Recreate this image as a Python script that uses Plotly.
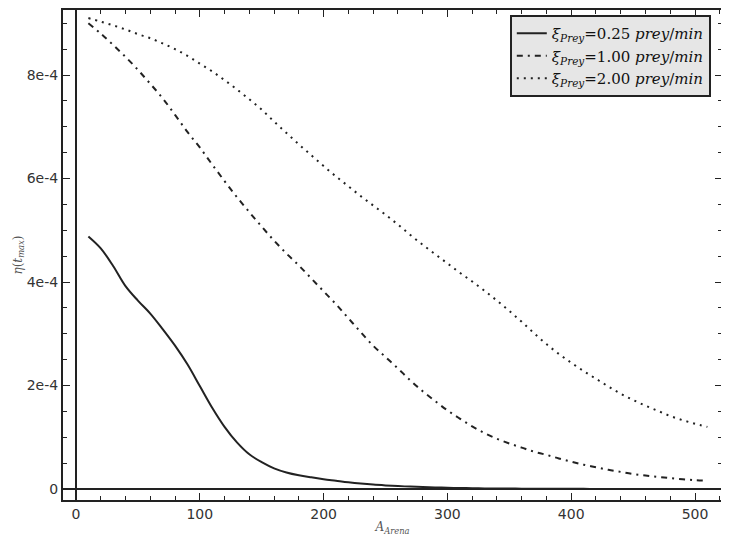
import plotly.graph_objects as go

area = list(range(10, 520, 10))

# eta(t_max) values in units of 1e-4
eta_025 = [4.88, 4.65, 4.31, 3.92, 3.64, 3.39, 3.09, 2.77, 2.41, 1.99,
           1.57, 1.20, 0.90, 0.67, 0.52, 0.40, 0.32, 0.265, 0.225, 0.19,
           0.16, 0.13, 0.105, 0.085, 0.07, 0.057, 0.046, 0.037, 0.030, 0.024,
           0.019, 0.015, 0.012, 0.010, 0.008, 0.0065, 0.0053, 0.0043, 0.0035, 0.003,
           0.0025, 0.0021, 0.0018, 0.0015, 0.0013, 0.0011, 0.001, 0.0009, 0.0008, 0.0007, 0.0006]
eta_100 = [9.00, 8.80, 8.58, 8.35, 8.10, 7.83, 7.55, 7.23, 6.90, 6.60,
           6.27, 5.95, 5.64, 5.35, 5.07, 4.80, 4.55, 4.32, 4.07, 3.82,
           3.57, 3.30, 3.03, 2.77, 2.55, 2.33, 2.10, 1.89, 1.70, 1.52,
           1.36, 1.21, 1.08, 0.97, 0.88, 0.80, 0.72, 0.66, 0.59, 0.53,
           0.47, 0.42, 0.37, 0.33, 0.29, 0.26, 0.235, 0.21, 0.19, 0.17, 0.16]
eta_200 = [9.10, 9.03, 8.96, 8.88, 8.79, 8.71, 8.61, 8.50, 8.37, 8.22,
           8.07, 7.90, 7.72, 7.53, 7.33, 7.10, 6.88, 6.66, 6.45, 6.24,
           6.04, 5.85, 5.66, 5.48, 5.30, 5.11, 4.91, 4.72, 4.54, 4.36,
           4.18, 4.01, 3.83, 3.64, 3.44, 3.23, 3.01, 2.80, 2.61, 2.44,
           2.28, 2.13, 1.98, 1.84, 1.72, 1.61, 1.51, 1.41, 1.33, 1.26, 1.20]

names = ["<i>ξ</i><sub><i>Prey</i></sub>=0.25 <i>prey</i>/<i>min</i>",
         "<i>ξ</i><sub><i>Prey</i></sub>=1.00 <i>prey</i>/<i>min</i>",
         "<i>ξ</i><sub><i>Prey</i></sub>=2.00 <i>prey</i>/<i>min</i>"]
series = [eta_025, eta_100, eta_200]
dashes = ["solid", "6px,5px,2px,5px", "2px,5px"]

y_ticks = [0, 2e-4, 4e-4, 6e-4, 8e-4]
y_labels = ["0", "2e-4", "4e-4", "6e-4", "8e-4"]
x_ticks = [0, 100, 200, 300, 400, 500]

ink = "#222222"

fig = go.Figure()
for name, vals, dash in zip(names, series, dashes):
    fig.add_trace(go.Scatter(x=area, y=[v * 1e-4 for v in vals], mode="lines",
                             name=name,
                             line=dict(color=ink, width=2, dash=dash,
                                       shape="spline", smoothing=1)))

# page body adds an 8px offset, so the figure is a little smaller than the window
fig.update_layout(
    width=721, height=536,
    margin=dict(l=55, r=7, t=2, b=44, autoexpand=False),
    plot_bgcolor="white", paper_bgcolor="white",
    font=dict(family="DejaVu Sans", size=14, color="#333333"),
    showlegend=True,
    legend=dict(x=0.983, y=0.99, xanchor="right", yanchor="top",
                bgcolor="#e6e6e6", bordercolor=ink, borderwidth=2,
                font=dict(family="DejaVu Serif", size=15, color="#111111"),
                itemwidth=30, tracegroupgap=0),
)
fig.update_xaxes(range=[-10.5, 521.8], tickvals=x_ticks, showgrid=False,
                 automargin=False,
                 showline=True, linecolor=ink, linewidth=2, mirror="ticks",
                 ticks="inside", ticklen=7, tickcolor=ink,
                 minor=dict(dtick=20, ticks="inside", ticklen=4, tickcolor=ink),
                 zeroline=True, zerolinecolor=ink, zerolinewidth=1.5,
                 title=dict(text="<i>A</i><sub><i>Arena</i></sub>", standoff=2,
                            font=dict(family="DejaVu Serif", size=12, color="#555555")))
fig.update_yaxes(range=[-0.2126e-4, 9.256e-4], tickvals=y_ticks, ticktext=y_labels,
                 showgrid=False, automargin=False,
                 showline=True, linecolor=ink, linewidth=2, mirror="ticks",
                 ticks="inside", ticklen=7, tickcolor=ink,
                 minor=dict(dtick=0.5e-4, ticks="inside", ticklen=4, tickcolor=ink),
                 zeroline=True, zerolinecolor=ink, zerolinewidth=1.5,
                 title=dict(text="<i>η</i>(<i>t</i><sub><i>max</i></sub>)", standoff=2,
                            font=dict(family="DejaVu Serif", size=12, color="#555555")))

fig.write_html("out.html")
